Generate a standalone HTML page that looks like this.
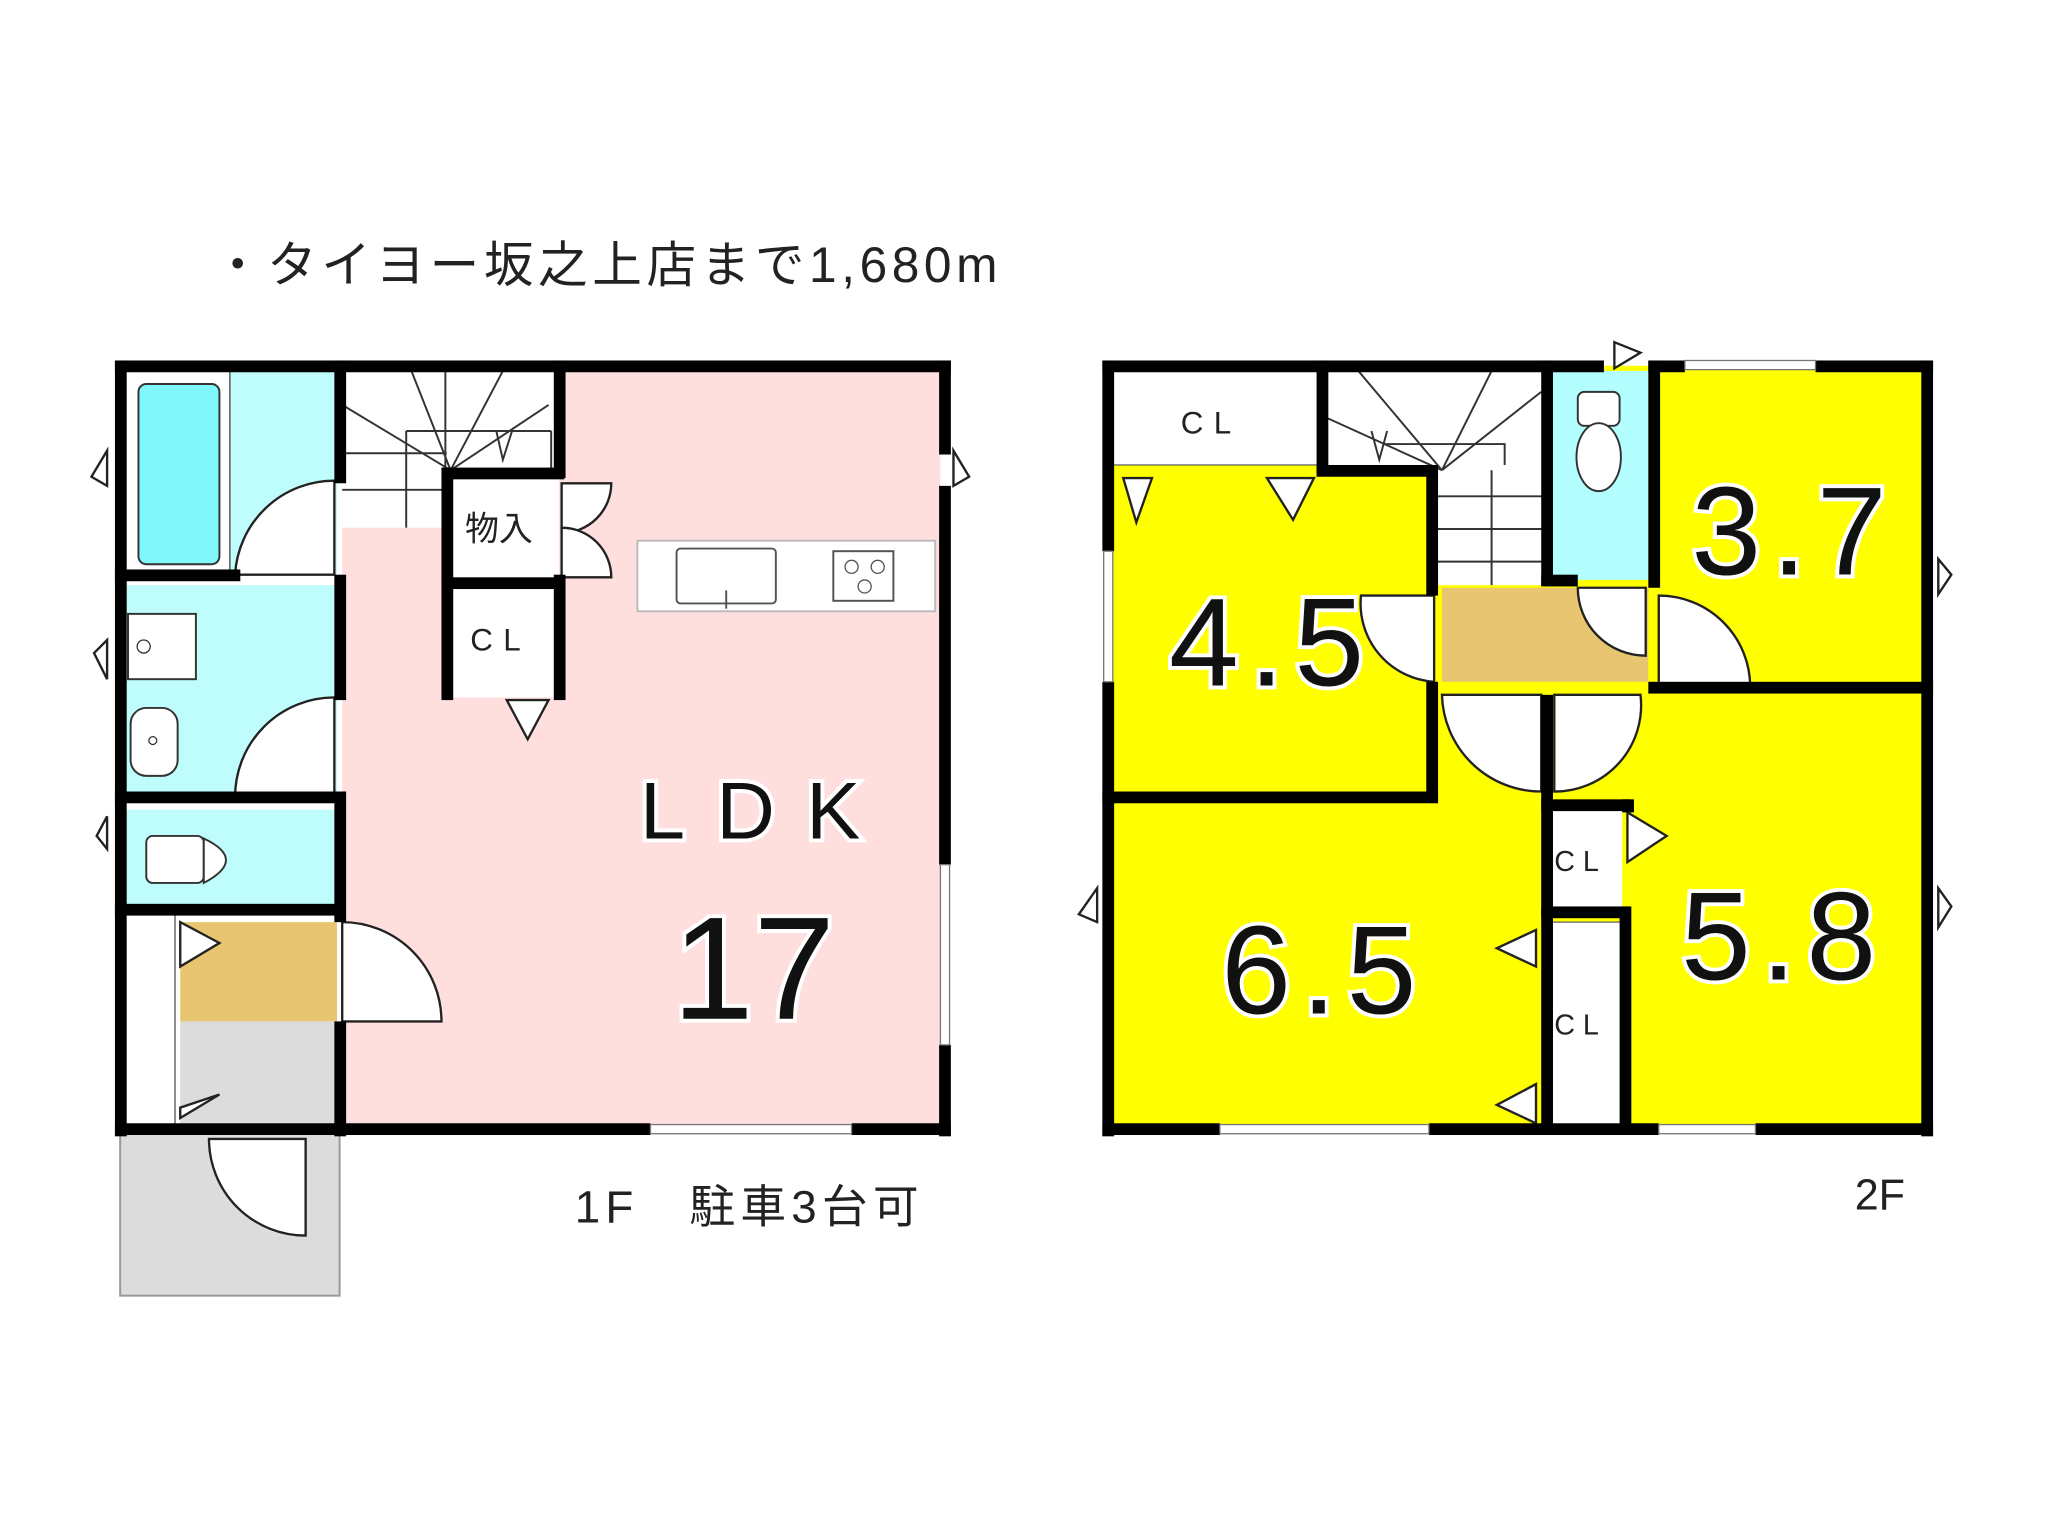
<!DOCTYPE html>
<html><head><meta charset="utf-8"><style>
html,body{margin:0;padding:0;background:#fff;}
svg{display:block;}
text{font-family:"Liberation Sans","DejaVu Sans","Noto Sans CJK JP",sans-serif;}
.big{fill:#111;stroke:#fff;stroke-width:6;paint-order:stroke;}
</style></head><body>
<svg width="2048" height="1536" viewBox="0 0 1568 1176" xmlns="http://www.w3.org/2000/svg">
<rect width="1568" height="1176" fill="#fff"/>
<text x="163" y="216" font-size="38" fill="#222" letter-spacing="3.5">・タイヨー坂之上店まで1,680m</text>

<!-- ===== 1F ===== -->
<rect x="92" y="868" width="168" height="124" fill="#dcdcdc" stroke="#999" stroke-width="1.5"/>
<rect x="262" y="284" width="458" height="580" fill="#ffdede"/>
<rect x="96" y="284" width="162" height="156" fill="#bffcfc"/>
<rect x="96" y="284" width="80" height="156" fill="#fff" stroke="#444" stroke-width="1"/>
<rect x="106" y="294" width="62" height="138" rx="6" fill="#7ff7fb" stroke="#333" stroke-width="1.5"/>
<rect x="96" y="448" width="162" height="162" fill="#bffcfc"/>
<rect x="96" y="620" width="162" height="74" fill="#bffcfc"/>
<rect x="96" y="700" width="38" height="162" fill="#fff" stroke="#555" stroke-width="1"/>
<rect x="138" y="706" width="120" height="76" fill="#e8c570"/>
<rect x="138" y="782" width="120" height="80" fill="#dcdcdc"/>
<rect x="98" y="470" width="52" height="50" fill="#fff" stroke="#333" stroke-width="1.5"/>
<circle cx="110" cy="495" r="5" fill="none" stroke="#333"/>
<rect x="100" y="542" width="36" height="52" rx="12" fill="#fff" stroke="#333" stroke-width="1.5"/>
<circle cx="117" cy="567" r="3" fill="none" stroke="#333"/>
<rect x="112" y="640" width="44" height="36" rx="5" fill="#fff" stroke="#333" stroke-width="1.5"/>
<path d="M156 642 Q190 658 156 676 Z" fill="#fff" stroke="#333" stroke-width="1.5"/>
<rect x="262" y="284" width="166" height="120" fill="#fff"/>
<g stroke="#333" stroke-width="1.5" fill="none">
<path d="M262 347H342M262 375H342M311 330V404M311 330H422M422 330V360M341 284V360M345 360L262 310M345 360L315 284M345 360L385 284M345 360L420 310"/>
<path d="M380 330L385 352L392 330"/>
</g>
<rect x="342" y="366" width="86" height="80" fill="#fff"/>
<rect x="342" y="450" width="86" height="84" fill="#fff"/>
<text x="356" y="414" font-size="26" fill="#222">物入</text>
<text x="360" y="498" font-size="24" fill="#222" letter-spacing="8">CL</text>
<rect x="488" y="414" width="228" height="54" fill="#fff" stroke="#bbb" stroke-width="1.5"/>
<rect x="518" y="420" width="76" height="42" rx="3" fill="#fff" stroke="#555" stroke-width="1.5"/>
<line x1="556" y1="452" x2="556" y2="466" stroke="#555" stroke-width="1.5"/>
<rect x="638" y="422" width="46" height="38" fill="#fff" stroke="#555" stroke-width="1.5"/>
<circle cx="652" cy="434" r="5" fill="none" stroke="#555"/><circle cx="672" cy="434" r="5" fill="none" stroke="#555"/><circle cx="662" cy="449" r="5" fill="none" stroke="#555"/>
<g fill="#fff" stroke="#222" stroke-width="1.8">
<path d="M256 440 L256 368 A76 76 0 0 0 180 440 Z"/>
<path d="M256 610 L256 534 A76 76 0 0 0 180 610 Z"/>
<path d="M262 706 L262 782 L338 782 A76 76 0 0 0 262 706Z"/>
<path d="M160 872 L160 872 A74 74 0 0 0 234 946 L234 872 Z"/>
<path d="M430 370 L468 370 A38 38 0 0 1 430 408 Z"/>
<path d="M430 442 L468 442 A38 38 0 0 0 430 404 Z"/>
<path d="M388 536 L404 566 L420 536 Z"/>
<path d="M138 706 L168 722 L138 740 Z"/>
<path d="M138 856 L168 838 L138 848 Z"/>
<path d="M82 345 L70 365 L82 372 Z"/>
<path d="M82 490 L72 500 L82 520 Z"/>
<path d="M82 625 L74 640 L82 650 Z"/>
<path d="M730 345 L742 365 L730 372 Z"/>
</g>
<g fill="#000">
<rect x="88" y="276" width="640" height="9"/>
<rect x="88" y="276" width="9" height="594"/>
<rect x="719" y="276" width="9" height="72"/>
<rect x="719" y="372" width="9" height="290"/>
<rect x="719" y="800" width="9" height="70"/>
<rect x="88" y="860" width="410" height="9"/>
<rect x="652" y="860" width="76" height="9"/>
<rect x="256" y="276" width="9" height="94"/>
<rect x="256" y="440" width="9" height="96"/>
<rect x="256" y="606" width="9" height="100"/>
<rect x="256" y="782" width="9" height="88"/>
<rect x="88" y="436" width="96" height="9"/>
<rect x="88" y="606" width="176" height="9"/>
<rect x="88" y="692" width="176" height="9"/>
<rect x="338" y="358" width="9" height="178"/>
<rect x="424" y="276" width="9" height="90"/>
<rect x="424" y="440" width="9" height="96"/>
<rect x="338" y="358" width="94" height="9"/>
<rect x="338" y="442" width="94" height="9"/>
</g>
<rect x="498" y="861" width="154" height="7" fill="#fff" stroke="#777" stroke-width="1"/>
<rect x="720" y="662" width="7" height="138" fill="#fff" stroke="#777" stroke-width="1"/>
<text x="490" y="642" font-size="62" class="big" letter-spacing="24">LDK</text>
<text x="577" y="780" font-size="112" class="big" text-anchor="middle">17</text>
<text x="440" y="936" font-size="35" fill="#222" letter-spacing="4">1F　駐車3台可</text>

<!-- ===== 2F ===== -->
<rect x="848" y="280" width="628" height="584" fill="#ffff00"/>
<rect x="852" y="284" width="158" height="72" fill="#fff" stroke="#666" stroke-width="1"/>
<text x="904" y="332" font-size="24" fill="#222" letter-spacing="8">CL</text>
<rect x="1014" y="284" width="170" height="76" fill="#fff"/>
<rect x="1100" y="356" width="84" height="92" fill="#fff"/>
<g stroke="#333" stroke-width="1.5" fill="none">
<path d="M1100 380H1184M1100 405H1184M1100 430H1184M1142 360V448M1060 340H1152V356M1104 360L1016 320M1104 360L1040 284M1104 360L1142 284M1104 360L1180 300"/>
<path d="M1050 330L1056 352L1062 330"/>
</g>
<rect x="1188" y="284" width="74" height="160" fill="#b3ffff"/>
<rect x="1208" y="300" width="32" height="26" rx="5" fill="#fff" stroke="#333" stroke-width="1.5"/>
<ellipse cx="1224" cy="350" rx="17" ry="26" fill="#fff" stroke="#333" stroke-width="1.5"/>
<rect x="1104" y="450" width="158" height="72" fill="#e8c570"/>
<rect x="1188" y="620" width="54" height="74" fill="#fff"/>
<rect x="1186" y="706" width="56" height="156" fill="#fff" stroke="#666" stroke-width="1"/>
<text x="1190" y="667" font-size="22" fill="#222" letter-spacing="6">CL</text>
<text x="1190" y="792" font-size="22" fill="#222" letter-spacing="6">CL</text>
<g fill="#fff" stroke="#222" stroke-width="1.8">
<path d="M1208 450 A52 52 0 0 0 1260 502 L1260 450 Z"/>
<path d="M1270 456 A70 70 0 0 1 1340 526 L1270 526 Z"/>
<path d="M1098 456 L1042 456 A60 60 0 0 0 1098 522 Z"/>
<path d="M1104 532 A76 76 0 0 0 1180 606 L1180 532 Z"/>
<path d="M1190 532 L1190 606 A66 66 0 0 0 1256 532 Z"/>
<path d="M860 366 L870 400 L882 366 Z"/>
<path d="M970 366 L990 398 L1006 366 Z"/>
<path d="M1246 622 L1276 640 L1246 660 Z"/>
<path d="M1176 712 L1146 726 L1176 740 Z"/>
<path d="M1176 830 L1146 846 L1176 860 Z"/>
<path d="M1236 262 L1256 270 L1236 282 Z"/>
<path d="M840 680 L826 700 L840 706 Z"/>
<path d="M1484 428 L1494 440 L1484 455 Z"/>
<path d="M1484 680 L1494 694 L1484 710 Z"/>
</g>
<g fill="#000">
<rect x="844" y="276" width="384" height="9"/>
<rect x="1262" y="276" width="28" height="9"/>
<rect x="1390" y="276" width="90" height="9"/>
<rect x="844" y="276" width="9" height="146"/>
<rect x="844" y="522" width="9" height="348"/>
<rect x="1471" y="276" width="9" height="594"/>
<rect x="844" y="860" width="90" height="9"/>
<rect x="1094" y="860" width="176" height="9"/>
<rect x="1344" y="860" width="136" height="9"/>
<rect x="1008" y="276" width="9" height="86"/>
<rect x="1008" y="356" width="92" height="9"/>
<rect x="1092" y="356" width="9" height="100"/>
<rect x="1092" y="522" width="9" height="92"/>
<rect x="844" y="606" width="257" height="9"/>
<rect x="1180" y="276" width="9" height="172"/>
<rect x="1180" y="440" width="28" height="9"/>
<rect x="1262" y="276" width="9" height="174"/>
<rect x="1262" y="522" width="218" height="9"/>
<rect x="1180" y="532" width="9" height="336"/>
<rect x="1180" y="612" width="68" height="9"/>
<rect x="1180" y="694" width="68" height="9"/>
<rect x="1242" y="612" width="9" height="10"/>
<rect x="1240" y="694" width="9" height="172"/>
</g>
<rect x="1290" y="276" width="100" height="7" fill="#fff" stroke="#777" stroke-width="1"/>
<rect x="934" y="861" width="160" height="7" fill="#fff" stroke="#777" stroke-width="1"/>
<rect x="1270" y="861" width="74" height="7" fill="#fff" stroke="#777" stroke-width="1"/>
<rect x="845" y="422" width="7" height="100" fill="#fff" stroke="#777" stroke-width="1"/>
<text x="895" y="525" font-size="96" class="big" letter-spacing="8">4.5</text>
<text x="1295" y="440" font-size="96" class="big" letter-spacing="8">3.7</text>
<text x="935" y="776" font-size="96" class="big" letter-spacing="8">6.5</text>
<text x="1287" y="750" font-size="96" class="big" letter-spacing="8">5.8</text>
<text x="1420" y="926" font-size="33" fill="#222">2F</text>
</svg>
</body></html>
